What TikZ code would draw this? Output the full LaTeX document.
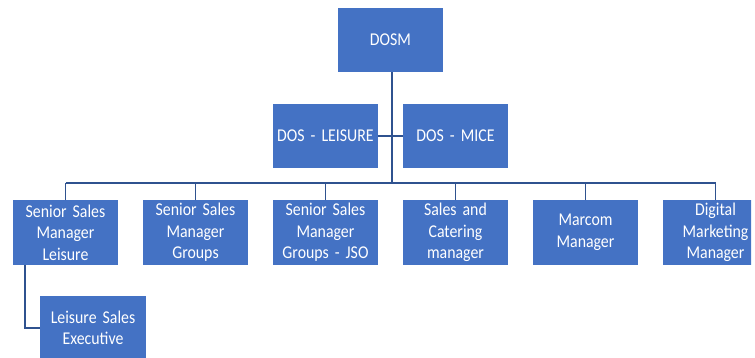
\documentclass[tikz,border=0pt]{standalone}
\usepackage{fontspec}
\setmainfont{Carlito}[FakeStretch=0.88, WordSpace=0.75]
\usepackage{tikz}
\usetikzlibrary{calc}

\definecolor{boxblue}{HTML}{4472C4}
\definecolor{lineblue}{HTML}{2F528F}

\tikzset{
    posbox/.style={fill=boxblue, text=white, minimum width=105pt, minimum height=64pt,
        text width=103pt, align=center, inner sep=0pt, font=\fontsize{18}{21.5}\selectfont},
    link/.style={draw=lineblue, line width=1.6pt}
}

\begin{document}
\begin{tikzpicture}[x=1pt,y=-1pt]
            \useasboundingbox (0,0) rectangle (755,358);
            \clip (0,0) rectangle (751,358);

            \node[posbox] (dosm) at (390.5,40) {DOSM};
            \node[posbox] (dosl) at (325.5,136) {DOS - LEISURE};
            \node[posbox] (dosmice) at (455.5,136) {DOS - MICE};

            \foreach \n\x\t in {s1/65.5/{Senior Sales\\Manager\\Leisure},
                                s2/195.5/{Senior Sales\\Manager\\Groups},
                                s3/325.5/{Senior Sales\\Manager\\Groups - JSO},
                                s4/455.5/{Sales and\\Catering\\manager},
                                s5/585.5/{Marcom\\Manager},
                                s6/715.5/{Digital\\Marketing\\Manager}} {
                \node[posbox] (\n) at (\x,232.5) {\t};
            }

            \node[posbox, minimum width=106pt] (exec) at (93,328) {Leisure Sales\\Executive};

            \coordinate (bus) at (392,183);

            \draw[link] (dosm.south -| bus) -- (bus);
            \draw[link] (dosl.east) -- (dosmice.west);
            \draw[link] (s1.north |- bus) -- (s6.north |- bus);
            \foreach \n in {s1,s2,s3,s4,s5,s6} {
                \draw[link] (\n.north) -- (\n.north |- bus);
            }
            \draw[link] ([xshift=12pt]s1.south west) |- (exec.west);
        \end{tikzpicture}
\end{document}
